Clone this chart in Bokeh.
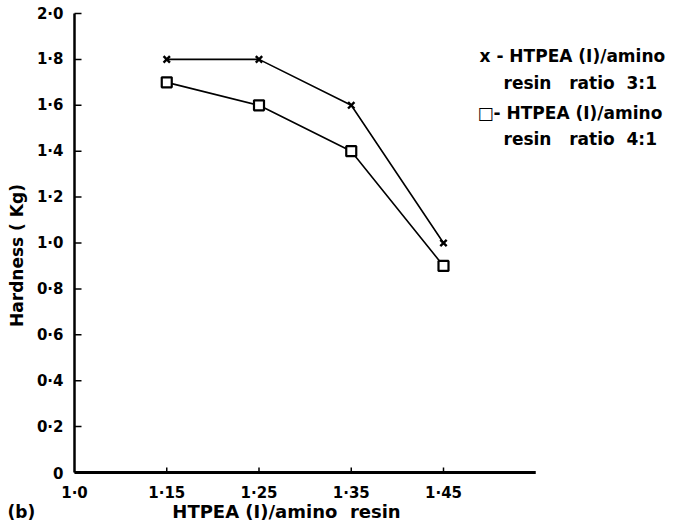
import math
from bokeh.plotting import figure
from bokeh.models import Label
from bokeh.core.properties import value
from bokeh.embed import file_html
from bokeh.resources import INLINE

# ---- data ----
x_labels = ["1·0", "1·15", "1·25", "1·35", "1·45"]
y_ticks = [0.0, 0.2, 0.4, 0.6, 0.8, 1.0, 1.2, 1.4, 1.6, 1.8, 2.0]
y_labels = ["0", "0·2", "0·4", "0·6", "0·8", "1·0", "1·2", "1·4", "1·6", "1·8", "2·0"]
ratio_categories = ["1·15", "1·25", "1·35", "1·45"]
hardness_3to1 = [1.8, 1.8, 1.6, 1.0]
hardness_4to1 = [1.7, 1.6, 1.4, 0.9]

FONT = "DejaVu Sans"
NB = "\u00a0"
W, H = 676, 530
# layout (canvas pixels)
ORIGIN_X, ORIGIN_Y = 74, 472      # where x index 0 / y 0 sits
PX_X, PX_Y = 92.25, 229.5         # pixels per category step / per unit of hardness

x_pos = {lab: i for i, lab in enumerate(x_labels)}
xs = [x_pos[c] for c in ratio_categories]
x_idx = list(range(len(x_labels)))
y_max = y_ticks[-1]

p = figure(width=W, height=H, output_backend="svg", toolbar_location=None,
           x_axis_type=None, y_axis_type=None,
           x_range=(-ORIGIN_X / PX_X, (W - ORIGIN_X) / PX_X),
           y_range=(-(H - ORIGIN_Y) / PX_Y, ORIGIN_Y / PX_Y),
           min_border=0, min_border_left=0, min_border_right=0,
           min_border_top=0, min_border_bottom=0)
p.outline_line_color = None
p.grid.visible = False
p.background_fill_color = "white"
p.border_fill_color = "white"

# axes lines
p.segment(x0=[0], y0=[0], x1=[0], y1=[y_max], line_color="black", line_width=2.5)
p.segment(x0=[0], y0=[0], x1=[len(x_labels)], y1=[0], line_color="black", line_width=3)
# y ticks (pointing inward) and labels
p.ray(x=[0] * len(y_ticks), y=y_ticks, length=7, length_units="screen", angle=0,
      line_color="black", line_width=1.5)
p.text(x=[0] * len(y_ticks), y=y_ticks, text=y_labels, x_offset=-11,
       text_align="right", text_baseline="middle", text_font=value(FONT),
       text_font_style="bold", text_font_size="15px", text_color="black")
# x ticks and labels
p.ray(x=x_idx[1:], y=[0] * (len(x_idx) - 1), length=5, length_units="screen",
      angle=math.pi / 2, line_color="black", line_width=1.5)
p.text(x=x_idx, y=[0] * len(x_idx), text=x_labels, y_offset=20,
       text_align="center", text_baseline="middle", text_font=value(FONT),
       text_font_style="bold", text_font_size="15px", text_color="black")

# data
p.line(xs, hardness_3to1, line_color="black", line_width=1.6)
p.scatter(xs, hardness_3to1, marker="x", size=9, line_color="black", line_width=2.4)
p.line(xs, hardness_4to1, line_color="black", line_width=1.6)
p.scatter(xs, hardness_4to1, marker="square", size=10, line_color="black",
          fill_color="white", line_width=2.2)

def add_label(txt, x, y, size="15px", angle=0.0, align="left"):
    p.add_layout(Label(x=x, y=y, x_units="screen", y_units="screen", text=txt,
                       angle=angle, text_align=align,
                       text_font=FONT, text_font_style="bold", text_font_size=size,
                       text_baseline="middle", text_color="black"))

# axis titles (screen units: x from left, y from bottom of canvas)
add_label("Hardness" + NB + "(" + NB + "Kg)", 16, H - 255, size="17px",
          angle=math.pi / 2, align="center")
add_label("HTPEA" + NB + "(I)/amino" + NB + NB + "resin", 286, H - 511, size="18px",
          align="center")
add_label("(b)", 7, H - 511, size="17px")

# legend texts
add_label("x - HTPEA (I)/amino", 479, H - 55, size="17px")
add_label("resin" + NB * 3 + "ratio" + NB * 2 + "3:1", 503, H - 82, size="17px")
add_label("□- HTPEA (I)/amino", 477, H - 112, size="17px")
add_label("resin" + NB * 3 + "ratio" + NB * 2 + "4:1", 503, H - 138, size="17px")

open("out.html", "w").write(file_html(p, INLINE))
